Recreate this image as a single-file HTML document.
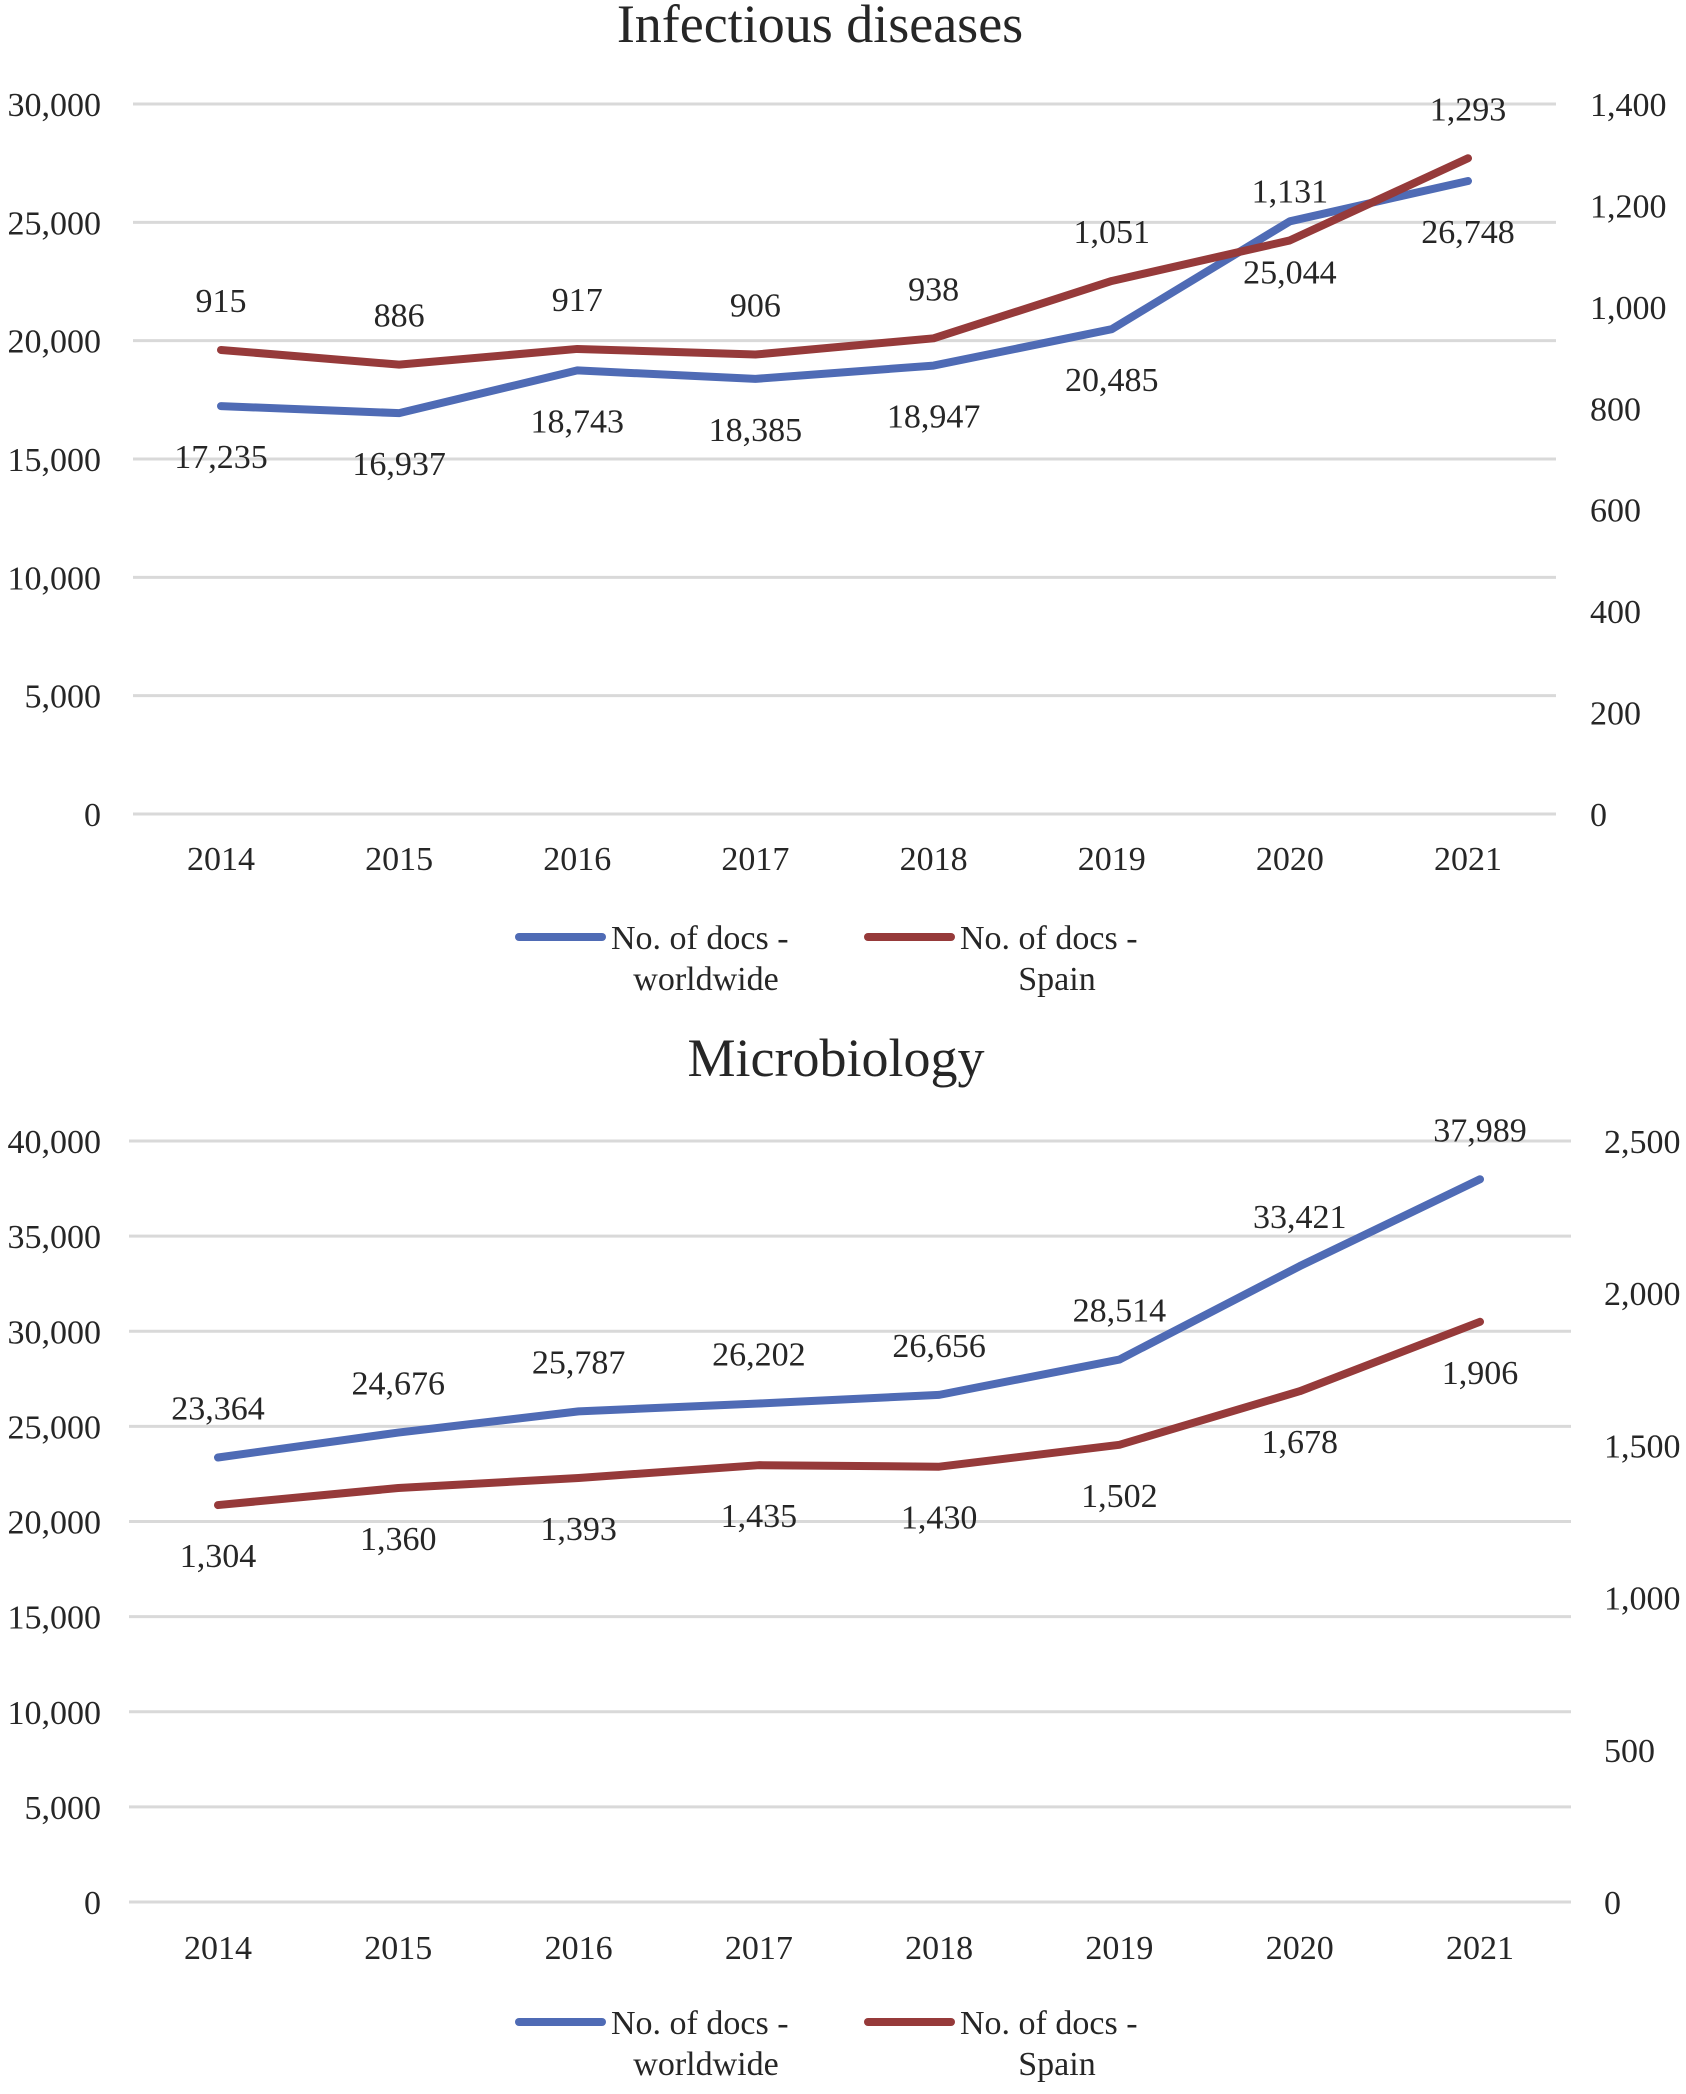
<!DOCTYPE html>
<html><head><meta charset="utf-8"><style>
body{margin:0;background:#fff}
svg text{font-family:"Liberation Serif",serif;fill:#262626}
</style></head><body>
<svg id="svg" width="1686" height="2089" xmlns="http://www.w3.org/2000/svg"></svg>
<script>
const years=["2014","2015","2016","2017","2018","2019","2020","2021"];
const infWorld=[17235,16937,18743,18385,18947,20485,25044,26748];
const infSpain=[915,886,917,906,938,1051,1131,1293];
const infLeftTicks=[0,5000,10000,15000,20000,25000,30000];
const infRightTicks=[0,200,400,600,800,1000,1200,1400];
const micWorld=[23364,24676,25787,26202,26656,28514,33421,37989];
const micSpain=[1304,1360,1393,1435,1430,1502,1678,1906];
const micLeftTicks=[0,5000,10000,15000,20000,25000,30000,35000,40000];
const micRightTicks=[0,500,1000,1500,2000,2500];
const NS="http://www.w3.org/2000/svg";
const svg=document.getElementById('svg');
function mk(tag,attrs,parent){const e=document.createElementNS(NS,tag);for(const k in attrs)e.setAttribute(k,attrs[k]);(parent||svg).appendChild(e);return e;}
const fmt=v=>v.toLocaleString('en-US');
function chart(cfg){
  const g=mk('g',{});
  
  
  const t=mk('text',{x:cfg.titleX,y:cfg.titleY,'font-size':54,'text-anchor':'middle'},g);
  t.textContent=cfg.title;
  
  
  const yL=v=>cfg.y0+(cfg.y1-cfg.y0)*v/cfg.lMax;
  const yR=v=>cfg.y0+(cfg.y1-cfg.y0)*v/cfg.rMax;
  const xs=i=>cfg.cx0+(cfg.cx1-cfg.cx0)*i/(years.length-1);
  cfg.lTicks.forEach(v=>{
    const l=mk('line',{x1:cfg.gx0,x2:cfg.gx1,y1:yL(v),y2:yL(v),stroke:'#d9d9d9','stroke-width':3},g);
    
    
    const tx=mk('text',{x:cfg.lx,y:yL(v)+12,'font-size':34,'text-anchor':'end'},g);
    tx.textContent=fmt(v);
    
    
  });
  cfg.rTicks.forEach(v=>{
    const tx=mk('text',{x:cfg.rx,y:yR(v)+12,'font-size':34,'text-anchor':'start'},g);
    tx.textContent=fmt(v);
    
    
  });
  years.forEach((y,i)=>{
    const tx=mk('text',{x:xs(i),y:cfg.xly,'font-size':34,'text-anchor':'middle'},g);
    tx.textContent=y;
    
    
  });
  const series=[{d:cfg.world,f:yL,c:'#4f6bb5',off:cfg.wOff,n:'worldwide'},{d:cfg.spain,f:yR,c:'#963a3a',off:cfg.sOff,n:'spain'}];
  series.forEach(s=>{
    const p=mk('polyline',{points:s.d.map((v,i)=>xs(i)+','+s.f(v)).join(' '),fill:'none',stroke:s.c,'stroke-width':8,'stroke-linejoin':'round','stroke-linecap':'round'},g);
    
    
    s.d.forEach((v,i)=>{
      const tx=mk('text',{x:xs(i),y:s.f(v)+s.off,'font-size':34,'text-anchor':'middle'},g);
      tx.textContent=fmt(v);
      
      
    });
  });
  [{x:519,c:'#4f6bb5',t2:'worldwide',cx:706,n:'worldwide'},{x:868,c:'#963a3a',t2:'Spain',cx:1057,n:'spain'}].forEach(L=>{
    const lg=mk('g',{},g);
    
    
    mk('line',{x1:L.x,x2:L.x+83,y1:cfg.legY,y2:cfg.legY,stroke:L.c,'stroke-width':8,'stroke-linecap':'round'},lg);
    const a=mk('text',{x:L.x+92,y:cfg.legY+12,'font-size':34},lg);a.textContent='No. of docs -';
    const b=mk('text',{x:L.cx,y:cfg.legY+53,'font-size':34,'text-anchor':'middle'},lg);b.textContent=L.t2;
  });
}
chart({name:'infectious-diseases-chart',title:'Infectious diseases',titleX:820,titleY:42,y0:814,y1:104,lMax:30000,rMax:1400,
  lTicks:infLeftTicks,rTicks:infRightTicks,gx0:133,gx1:1556,cx0:221,cx1:1468,lx:101,rx:1590,xly:870,
  world:infWorld,spain:infSpain,wOff:62,sOff:-38,legY:937});
chart({name:'microbiology-chart',title:'Microbiology',titleX:836,titleY:1076,y0:1902,y1:1141,lMax:40000,rMax:2500,
  lTicks:micLeftTicks,rTicks:micRightTicks,gx0:129,gx1:1571,cx0:218,cx1:1480,lx:101,rx:1604,xly:1959,
  world:micWorld,spain:micSpain,wOff:-38,sOff:62,legY:2022});
</script>
</body></html>
